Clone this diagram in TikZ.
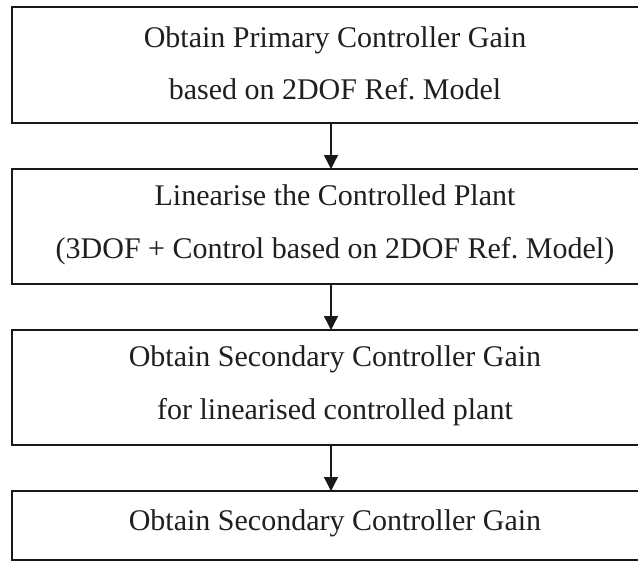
\documentclass[tikz,border=0pt]{standalone}
\usepackage{fontspec}
\setmainfont{Liberation Serif}
\usetikzlibrary{arrows.meta}
\begin{document}
\begin{tikzpicture}[x=1pt,y=-1pt,
  stepbox/.style={draw=black!90, line width=1.6pt, minimum width=646pt,
    inner sep=0pt, outer sep=0pt},
  steptext/.style={inner sep=0pt, align=center,
    font=\fontsize{30}{52.5}\selectfont, text=black!88},
  flow/.style={draw=black!90, line width=1.4pt,
    -{Triangle[width=14pt,length=14pt]}}]
  \useasboundingbox[fill=white] (0,0) rectangle (638,562);
  % process step frames
  \node[stepbox, minimum height=116pt] (b1) at (335,65) {};
  \node[stepbox, minimum height=115pt] (b2) at (335,226.5) {};
  \node[stepbox, minimum height=115pt] (b3) at (335,387.5) {};
  \node[stepbox, minimum height=69pt]  (b4) at (335,525.5) {};
  % step texts
  \node[steptext] (t1) at ([yshift=1.5pt]b1.center)
    {Obtain Primary Controller Gain\\based on 2DOF Ref.\ Model};
  \node[steptext] (t2) at ([yshift=1.5pt]b2.center)
    {Linearise the Controlled Plant\\(3DOF + Control based on 2DOF Ref.\ Model)};
  \node[steptext] (t3) at ([yshift=1.5pt]b3.center)
    {Obtain Secondary Controller Gain\\for linearised controlled plant};
  \node[steptext] (t4) at ([yshift=2pt]b4.center)
    {Obtain Secondary Controller Gain};
  % connectors
  \draw[flow] ([xshift=-4pt]b1.south) -- ([xshift=-4pt]b2.north);
  \draw[flow] ([xshift=-4pt]b2.south) -- ([xshift=-4pt]b3.north);
  \draw[flow] ([xshift=-4pt]b3.south) -- ([xshift=-4pt]b4.north);
\end{tikzpicture}
\end{document}
